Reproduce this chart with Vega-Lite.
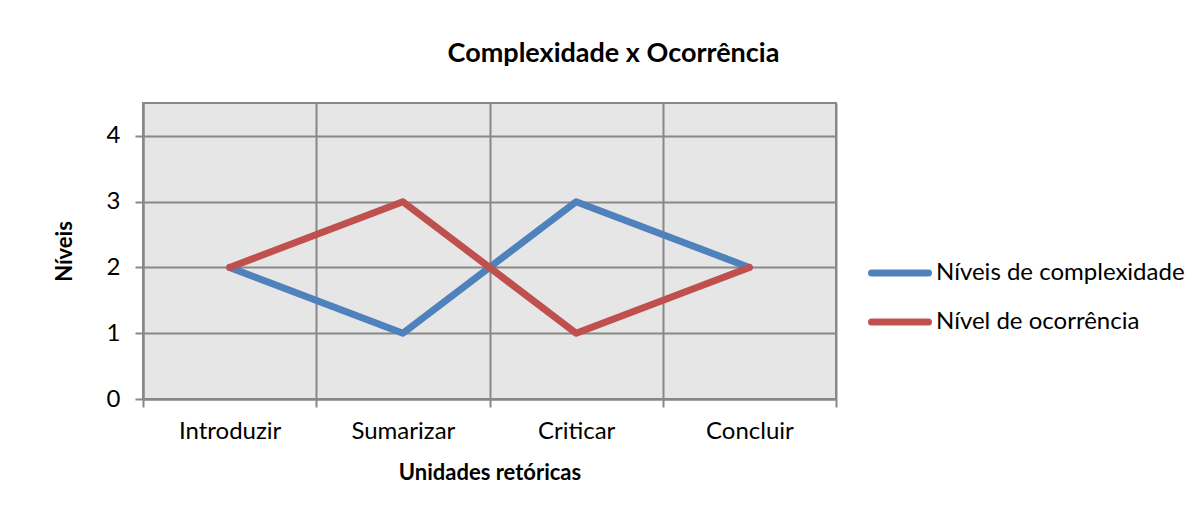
{
  "$schema": "https://vega.github.io/schema/vega-lite/v6.json",
  "autosize": {"type": "none"},
  "width": 693,
  "height": 296,
  "padding": {"left": 143, "top": 103, "right": 367, "bottom": 114},
  "background": "white",
  "title": {
    "text": "Complexidade x Ocorrência",
    "font": "Lato",
    "fontSize": 27,
    "fontWeight": "bold",
    "color": "#000000",
    "anchor": "middle",
    "dx": 124,
    "offset": 35
  },
  "data": {
    "values": [
      {"unidade": "Introduzir", "serie": "Níveis de complexidade", "valor": 2},
      {"unidade": "Sumarizar", "serie": "Níveis de complexidade", "valor": 1},
      {"unidade": "Criticar", "serie": "Níveis de complexidade", "valor": 3},
      {"unidade": "Concluir", "serie": "Níveis de complexidade", "valor": 2},
      {"unidade": "Introduzir", "serie": "Nível de ocorrência", "valor": 2},
      {"unidade": "Sumarizar", "serie": "Nível de ocorrência", "valor": 3},
      {"unidade": "Criticar", "serie": "Nível de ocorrência", "valor": 1},
      {"unidade": "Concluir", "serie": "Nível de ocorrência", "valor": 2}
    ]
  },
  "mark": {"type": "line", "strokeWidth": 7, "strokeCap": "round", "strokeJoin": "round"},
  "encoding": {
    "x": {
      "field": "unidade",
      "type": "nominal",
      "sort": ["Introduzir", "Sumarizar", "Criticar", "Concluir"],
      "scale": {"type": "band", "paddingInner": 0, "paddingOuter": 0},
      "axis": {
        "title": "Unidades retóricas",
        "labelAngle": 0,
        "tickBand": "extent",
        "grid": true,
        "gridColor": "#888888",
        "gridWidth": 2,
        "gridOpacity": 1,
        "domainColor": "#888888",
        "domainWidth": 2,
        "tickColor": "#888888",
        "tickWidth": 2,
        "tickSize": 8,
        "labelFont": "Lato",
        "labelFontSize": 24,
        "labelColor": "#000000",
        "labelPadding": 12,
        "titleFont": "Lato",
        "titleFontSize": 22,
        "titleFontWeight": "bold",
        "titleColor": "#000000",
        "titlePadding": 19
      }
    },
    "y": {
      "field": "valor",
      "type": "quantitative",
      "scale": {"domain": [0, 4.5], "nice": false},
      "axis": {
        "title": "Níveis",
        "values": [0, 1, 2, 3, 4],
        "grid": true,
        "gridColor": "#888888",
        "gridWidth": 2,
        "gridOpacity": 1,
        "domainColor": "#888888",
        "domainWidth": 2,
        "tickColor": "#888888",
        "tickWidth": 2,
        "tickSize": 8,
        "labelFont": "Lato",
        "labelFontSize": 24,
        "labelColor": "#000000",
        "labelPadding": 15,
        "titleFont": "Lato",
        "titleFontSize": 22,
        "titleFontWeight": "bold",
        "titleColor": "#000000",
        "titlePadding": 30
      }
    },
    "color": {
      "field": "serie",
      "type": "nominal",
      "sort": ["Níveis de complexidade", "Nível de ocorrência"],
      "scale": {
        "domain": ["Níveis de complexidade", "Nível de ocorrência"],
        "range": ["#4F81BD", "#C0504D"]
      },
      "legend": {
        "title": null,
        "orient": "none",
        "legendX": 725,
        "legendY": 138,
        "symbolType": "stroke",
        "symbolStrokeWidth": 7,
        "symbolSize": 3249,
        "labelFont": "Lato",
        "labelFontSize": 24,
        "labelColor": "#000000",
        "labelOffset": 4,
        "rowPadding": 3,
        "labelLimit": 400,
        "encode": {
          "symbols": {"update": {"strokeCap": {"value": "round"}}}
        }
      }
    }
  },
  "config": {
    "view": {"fill": "#E6E6E6", "stroke": "#888888", "strokeWidth": 2}
  }
}
